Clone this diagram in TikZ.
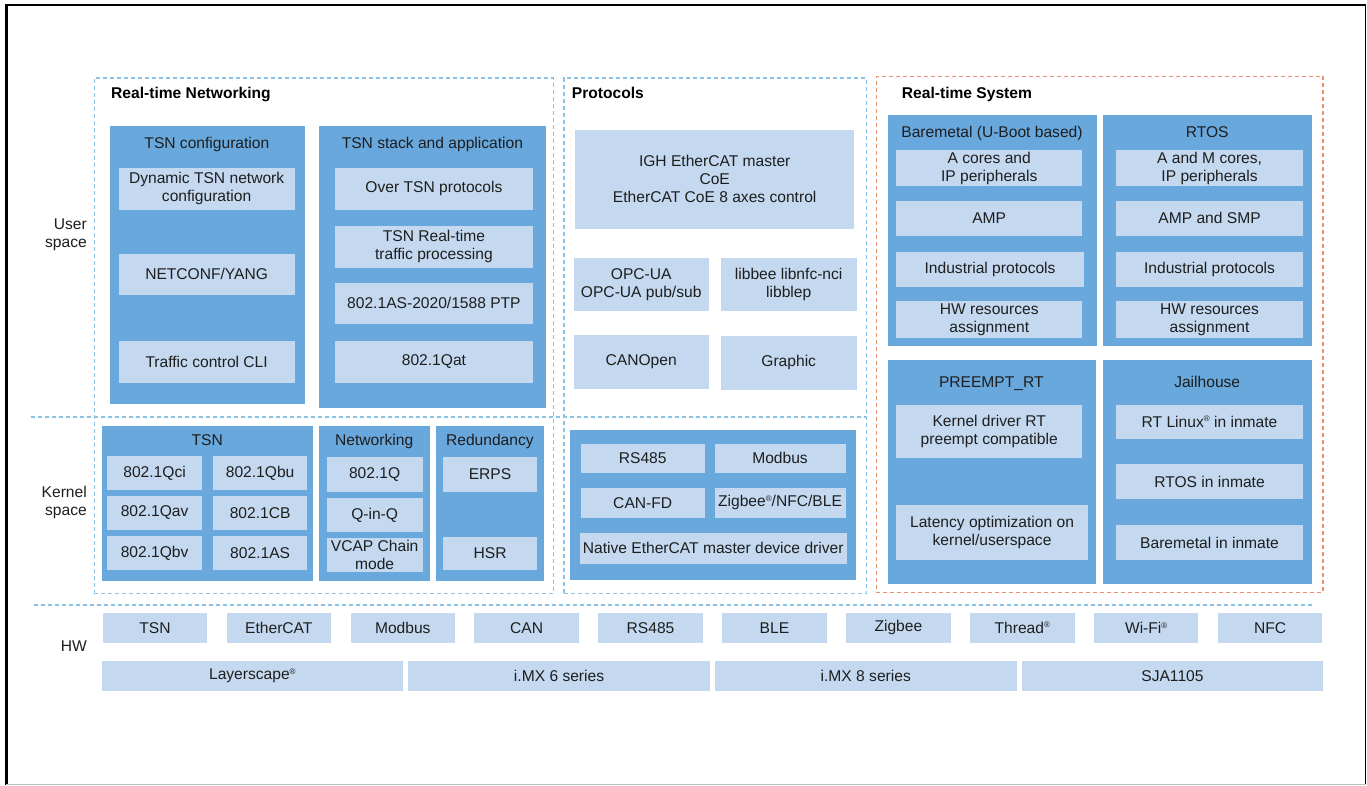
\documentclass[tikz,border=0pt]{standalone}
\usepackage{fontspec}
\setmainfont{Liberation Sans}
\definecolor{dk}{HTML}{68A8DD}
\definecolor{lt}{HTML}{C4D9F0}
\definecolor{dsh}{HTML}{8CC2E6}
\definecolor{org}{HTML}{E8916B}
\definecolor{txt}{HTML}{1E1E1E}
\newcommand\rmark{\raisebox{5.5pt}{\fontsize{8}{8}\selectfont ®}}
\newcommand\mkbox[7]{%
  \pgfmathsetmacro\mbw{#4-#2}%
  \pgfmathsetmacro\mbh{#5-#3}%
  \node[#6, minimum width=\mbw pt, minimum height=\mbh pt, anchor=north west] (#1) at (#2,#3) {#7};}
\begin{document}
\begin{tikzpicture}[x=1pt,y=-1pt, font=\fontsize{15.6}{18}\selectfont, text=txt,
  dkbox/.style={fill=dk, inner sep=0pt},
  ltbox/.style={fill=lt, inner sep=0pt, align=center},
  ttl/.style={inner sep=0pt, align=center, text height=11.2pt, text depth=0pt},
  grp/.style={font=\fontsize{15.6}{18}\selectfont\bfseries, inner sep=0pt, anchor=west, text=black, text height=11.2pt, text depth=0pt},
  lane/.style={align=right, anchor=east, inner sep=0pt},
  dashb/.style={draw=dsh, line width=1.3pt, dash pattern=on 4pt off 3pt, inner sep=0pt},
  dasho/.style={draw=org, line width=1.3pt, dash pattern=on 4pt off 3pt, inner sep=0pt}]
\useasboundingbox (0,0) rectangle (1367,785);
\fill[white] (0,0) rectangle (1367,785);
% frame
\draw[black, line width=3pt] (6.5,785) -- (6.5,5);
\draw[black, line width=2pt] (5,5) -- (1366,5);
\draw[black, line width=1.7pt] (1365.5,4) -- (1365.5,785);
\draw[black!25, line width=1pt] (6,784.3) -- (1366,784.3);

% group frames
\mkbox{grpnet}{93.6}{77.3}{553}{592.7}{dashb}{}
\mkbox{grpproto}{563.3}{77.3}{865.7}{592.7}{dashb}{}
\mkbox{grpsys}{875.7}{75.5}{1322.3}{591.7}{dasho}{}
\node[grp] (tnet) at (111,92.7) {Real-time Networking};
\node[grp] (tproto) at (571.7,92.7) {Protocols};
\node[grp] (tsys) at (901.7,92.7) {Real-time System};

% separators
\coordinate (s1a) at (31,417);
\coordinate (s1b) at (865.7,417);
\coordinate (s2a) at (34,605);
\coordinate (s2b) at (1312,605);
\draw[dashb] (s1a) -- (s1b);
\draw[dashb] (s2a) -- (s2b);

% lane labels
\node[lane] (luser) at (87,234.5) {User\\space};
\node[lane] (lkern) at (87,502) {Kernel\\space};
\node[lane, text height=11.2pt, text depth=0pt] (lhw) at (87,646) {HW};

% ---- Real-time networking, user space
\mkbox{tsncfg}{109.6}{125.3}{304.3}{404}{dkbox}{}
\node[ttl] (tsncfgT) at (206.9,142.7) {TSN configuration};
\mkbox{dyn}{118.6}{167.3}{294.3}{209.3}{ltbox}{Dynamic TSN network\\configuration}
\mkbox{netconf}{118.6}{253.3}{294.3}{295}{ltbox}{NETCONF/YANG}
\mkbox{tcli}{118.6}{340.7}{294.3}{382.3}{ltbox}{Traffic control CLI}

\mkbox{tsnstack}{319}{125.3}{545.7}{407.3}{dkbox}{}
\node[ttl] (tsnstackT) at (432.4,142.7) {TSN stack and application};
\mkbox{over}{335}{167.3}{532.5}{209.3}{ltbox}{Over TSN protocols}
\mkbox{rtp}{335}{225.7}{532.5}{267.7}{ltbox}{TSN Real-time\\traffic processing}
\mkbox{ptp}{335}{282.3}{532.5}{324}{ltbox}{802.1AS-2020/1588 PTP}
\mkbox{qat}{335}{340.3}{532.5}{382.3}{ltbox}{802.1Qat}

% ---- Protocols, user space
\mkbox{igh}{575}{129.3}{854}{228.3}{ltbox}{IGH EtherCAT master\\CoE\\EtherCAT CoE 8 axes control}
\mkbox{opc}{573.3}{257.3}{708.7}{310.7}{ltbox}{OPC-UA\\OPC-UA pub/sub}
\mkbox{libbee}{720.3}{257.3}{856.7}{310.7}{ltbox}{libbee libnfc-nci\\libblep}
\mkbox{canopen}{573.3}{334.3}{708.7}{388.3}{ltbox}{CANOpen}
\mkbox{graphic}{720.3}{335.7}{856.7}{389.3}{ltbox}{Graphic}

% ---- Real-time system
\mkbox{bare}{887.3}{115}{1096.7}{346}{dkbox}{}
\node[ttl] (bareT) at (992,132.3) {Baremetal (U-Boot based)};
\mkbox{bare1}{896}{150}{1082}{186}{ltbox}{A cores and\\IP peripherals}
\mkbox{bare2}{896}{201}{1082}{235.3}{ltbox}{AMP}
\mkbox{bare3}{896}{252}{1083.7}{286.7}{ltbox}{Industrial protocols}
\mkbox{bare4}{896}{301}{1082}{337.3}{ltbox}{HW resources\\assignment}

\mkbox{rtos}{1102.7}{115}{1311.7}{346}{dkbox}{}
\node[ttl] (rtosT) at (1207.2,132.3) {RTOS};
\mkbox{rtos1}{1115.7}{150}{1303}{186}{ltbox}{A and M cores,\\IP peripherals}
\mkbox{rtos2}{1115.7}{201}{1303}{235.3}{ltbox}{AMP and SMP}
\mkbox{rtos3}{1115.7}{252}{1303}{286.7}{ltbox}{Industrial protocols}
\mkbox{rtos4}{1115.7}{301}{1303}{337.3}{ltbox}{HW resources\\assignment}

\mkbox{preempt}{887.3}{359.3}{1095.3}{584}{dkbox}{}
\node[ttl] (preemptT) at (991.3,382.3) {PREEMPT\_RT};
\mkbox{pre1}{896}{404.3}{1082}{457.7}{ltbox}{Kernel driver RT\\preempt compatible}
\mkbox{pre2}{896}{504.7}{1087.7}{559.7}{ltbox}{Latency optimization on\\kernel/userspace}

\mkbox{jail}{1102.7}{359.3}{1311.7}{584}{dkbox}{}
\node[ttl] (jailT) at (1207.2,382.3) {Jailhouse};
\mkbox{jail1}{1115.7}{404.3}{1303}{439}{ltbox}{RT Linux\rmark{} in inmate}
\mkbox{jail2}{1115.7}{464}{1303}{498.7}{ltbox}{RTOS in inmate}
\mkbox{jail3}{1115.7}{525}{1303}{559.7}{ltbox}{Baremetal in inmate}

% ---- Kernel space, networking
\mkbox{ktsn}{101.4}{426}{313.2}{580.3}{dkbox}{}
\node[ttl] (ktsnT) at (207.3,440) {TSN};
\mkbox{qci}{107}{455.3}{201.8}{490}{ltbox}{802.1Qci}
\mkbox{qbu}{212.9}{455.3}{307}{490}{ltbox}{802.1Qbu}
\mkbox{qav}{107}{496}{201.8}{529.3}{ltbox}{802.1Qav}
\mkbox{qcb}{212.9}{496}{307}{529.3}{ltbox}{802.1CB}
\mkbox{qbv}{107}{535.3}{201.8}{570}{ltbox}{802.1Qbv}
\mkbox{qas}{212.9}{535.3}{307}{570}{ltbox}{802.1AS}

\mkbox{knet}{319}{426}{429.3}{580.3}{dkbox}{}
\node[ttl] (knetT) at (374.2,440) {Networking};
\mkbox{q}{326.4}{456.7}{422.5}{491.7}{ltbox}{802.1Q}
\mkbox{qinq}{326.4}{497.3}{422.5}{532}{ltbox}{Q-in-Q}
\mkbox{vcap}{326.4}{538}{422.5}{571.7}{ltbox}{VCAP Chain\\mode}

\mkbox{kred}{435.7}{426}{544}{580.3}{dkbox}{}
\node[ttl] (kredT) at (489.9,440) {Redundancy};
\mkbox{erps}{442.9}{456.7}{536.8}{491.7}{ltbox}{ERPS}
\mkbox{hsr}{442.9}{536.7}{536.8}{570}{ltbox}{HSR}

% ---- Kernel space, protocols
\mkbox{kproto}{569.3}{429.3}{855.3}{580}{dkbox}{}
\mkbox{rs}{580.7}{443.3}{704.3}{472.3}{ltbox}{RS485}
\mkbox{mod}{714.3}{443.3}{845.3}{472.3}{ltbox}{Modbus}
\mkbox{canfd}{580.7}{487.3}{704.3}{517.7}{ltbox}{CAN-FD}
\mkbox{zig}{714.3}{487.3}{845.3}{517.7}{ltbox}{Zigbee\rmark{}/NFC/BLE}
\mkbox{native}{579.3}{532.3}{846.7}{564}{ltbox}{Native EtherCAT master device driver}

% ---- HW
\foreach \t [count=\i from 0] in {TSN,EtherCAT,Modbus,CAN,RS485,BLE,Zigbee,Thread\rmark,Wi-Fi\rmark,NFC} {
  \pgfmathsetmacro\xa{102.5+\i*123.9}
  \node[ltbox, minimum width=104.5pt, minimum height=30pt, anchor=north west] (hw\i) at (\xa,612.7) {\t};
}
\foreach \t [count=\i from 0] in {Layerscape\rmark,i.MX 6 series,i.MX 8 series,SJA1105} {
  \pgfmathsetmacro\xa{101.4+\i*306.7}
  \node[ltbox, minimum width=301.5pt, minimum height=30.3pt, anchor=north west] (chip\i) at (\xa,660.7) {\t};
}
\end{tikzpicture}
\end{document}
